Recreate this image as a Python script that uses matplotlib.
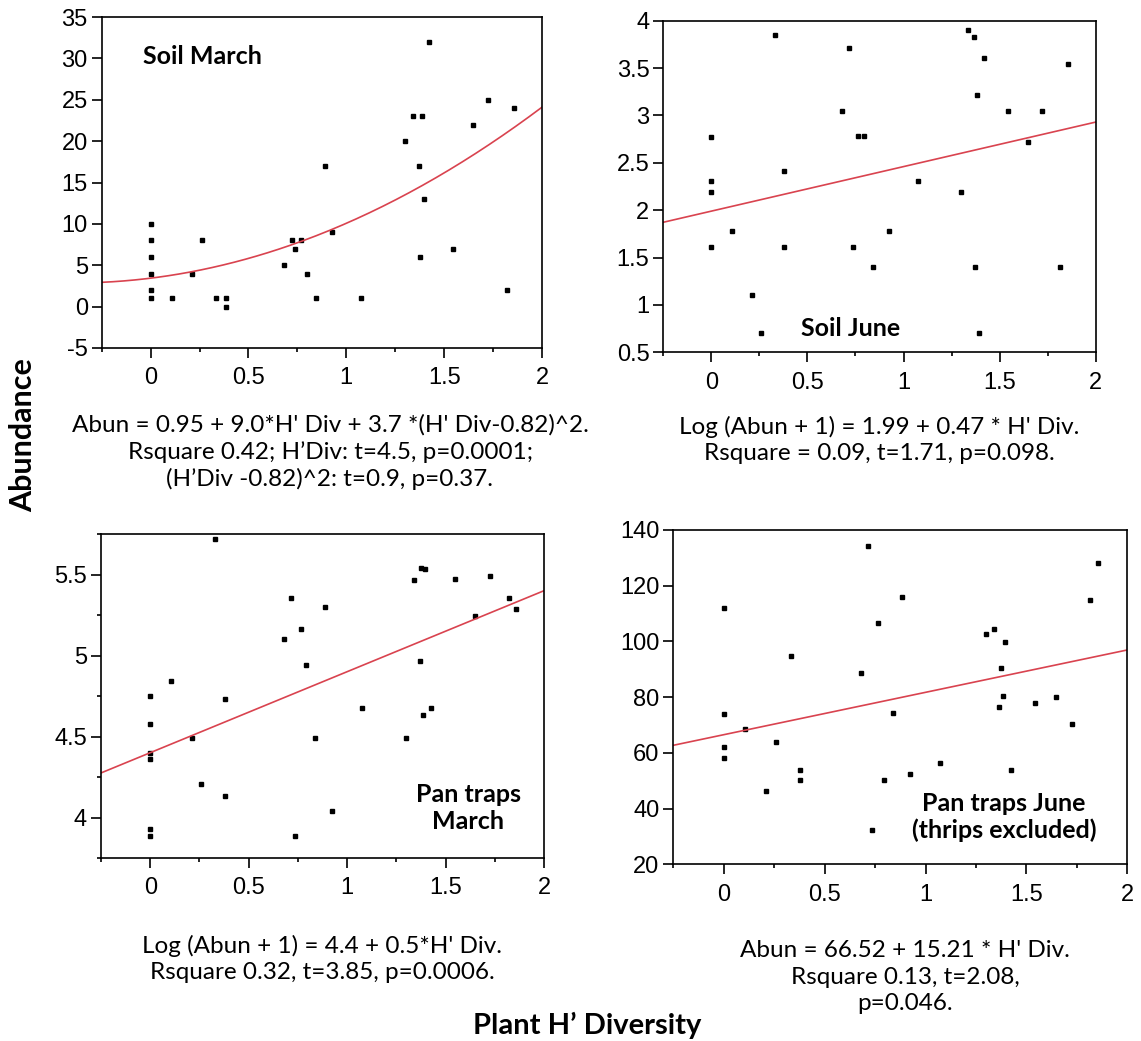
import numpy as np
import matplotlib
matplotlib.use("Agg")
import matplotlib.pyplot as plt
from matplotlib.ticker import MultipleLocator

# --- data ---
# Soil March
sm_x = [0, 0, 0, 0, 0, 0, 0.109, 0.213, 0.26, 0.335, 0.383, 0.383, 0.684, 0.722, 0.74, 0.768,
        0.797, 0.844, 0.889, 0.926, 1.077, 1.302, 1.34, 1.387, 1.369, 1.377, 1.396, 1.425,
        1.547, 1.649, 1.726, 1.82, 1.855]
sm_y = [10, 8, 6, 4, 2, 1, 1, 4, 8, 1, 1, -0.1, 5, 8, 7, 8,
        4, 1, 17, 9, 1, 20, 23, 23, 17, 6, 13, 32,
        7, 22, 25, 2, 24]

# Soil June
sj_x = [0, 0, 0, 0, 0.106, 0.21, 0.257, 0.332, 0.379, 0.379, 0.679, 0.716, 0.737, 0.765,
        0.792, 0.839, 0.924, 1.074, 1.298, 1.336, 1.366, 1.374, 1.383, 1.394, 1.421, 1.543,
        1.647, 1.722, 1.816, 1.854]
sj_y = [2.77, 2.31, 2.19, 1.61, 1.78, 1.10, 0.70, 3.85, 2.41, 1.61, 3.05, 3.71, 1.61, 2.78,
        2.78, 1.40, 1.78, 2.31, 2.19, 3.905, 3.83, 1.40, 3.22, 0.70, 3.61, 3.05,
        2.72, 3.05, 1.40, 3.54]

# Pan traps March
pm_x = [0, 0, 0, 0, 0, 0, 0.107, 0.211, 0.257, 0.331, 0.379, 0.379, 0.68, 0.717, 0.736,
        0.765, 0.792, 0.839, 0.887, 0.924, 1.075, 1.301, 1.339, 1.368, 1.376, 1.386, 1.396,
        1.424, 1.546, 1.648, 1.725, 1.82, 1.857]
pm_y = [4.753, 4.576, 4.399, 4.364, 3.932, 3.887, 4.842, 4.488, 4.208, 5.722, 4.733, 4.132,
        5.099, 5.354, 3.887, 5.165, 4.942, 4.488, 5.298, 4.043, 4.677, 4.488, 5.465, 4.965,
        5.543, 4.632, 5.531, 4.677, 5.475, 5.243, 5.488, 5.354, 5.288]

# Pan traps June
pj_x = [0, 0, 0, 0, 0.106, 0.209, 0.257, 0.331, 0.378, 0.378, 0.681, 0.717, 0.737, 0.766,
        0.794, 0.84, 0.885, 0.923, 1.074, 1.299, 1.337, 1.364, 1.375, 1.385, 1.393, 1.422,
        1.543, 1.648, 1.724, 1.817, 1.854]
pj_y = [112, 74, 62, 58, 68.5, 46.3, 63.8, 94.65, 53.7, 50.4, 88.55, 134.1, 32.3, 106.6,
        50.4, 74.4, 116, 52.4, 56.4, 102.7, 104.6, 76.5, 90.6, 80.5, 99.9, 53.7,
        77.9, 79.9, 70.5, 114.8, 128.2]

# fitted models from the captions
sm_coef = (0.95, 9.0, 3.7, 0.82)
sj_coef = (1.99, 0.47)
pm_coef = (4.4, 0.5)
pj_coef = (66.52, 15.21)

W, H = 1141, 1041
red = '#d9434f'
tick_font = 'Liberation Sans'
text_font = ['Lato', 'DejaVu Sans']

fig = plt.figure(figsize=(W / 100, H / 100), dpi=100)


def make_ax(l, r, t, b):
    return fig.add_axes([l / W, 1 - b / H, (r - l) / W, (b - t) / H])


def style(ax, ylim, ymajor, yminor=None):
    ax.set_xlim(-0.25, 2)
    ax.set_ylim(*ylim)
    ax.xaxis.set_major_locator(MultipleLocator(0.5))
    ax.xaxis.set_minor_locator(MultipleLocator(0.25))
    ax.yaxis.set_major_locator(MultipleLocator(ymajor))
    if yminor:
        ax.yaxis.set_minor_locator(MultipleLocator(yminor))
    ax.tick_params(which='major', length=7, width=1.2, labelsize=17, pad=3)
    ax.tick_params(which='minor', length=3, width=1.2)
    ax.tick_params(axis='x', which='major', pad=7)
    ax.xaxis.set_major_formatter(plt.FuncFormatter(lambda v, p: f'{v:g}'))
    ax.yaxis.set_major_formatter(plt.FuncFormatter(lambda v, p: f'{v:g}'))
    for s in ax.spines.values():
        s.set_linewidth(1.2)


xs = np.linspace(-0.25, 2, 200)

# Soil March
ax1 = make_ax(101.7, 542, 17, 348)
ax1.plot(sm_x, sm_y, 's', color='black', ms=2.2)
ax1.plot(xs, sm_coef[0] + sm_coef[1] * xs + sm_coef[2] * (xs - sm_coef[3]) ** 2, color=red, lw=1.2)
style(ax1, (-5, 35), 5)

# Soil June
ax2 = make_ax(663.3, 1095.7, 20.7, 352.3)
ax2.plot(sj_x, sj_y, 's', color='black', ms=2.2)
ax2.plot(xs, sj_coef[0] + sj_coef[1] * xs, color=red, lw=1.2)
style(ax2, (0.5, 4), 0.5)

# Pan traps March
ax3 = make_ax(101, 544, 534, 858)
ax3.plot(pm_x, pm_y, 's', color='black', ms=2.2)
ax3.plot(xs, pm_coef[0] + pm_coef[1] * xs, color=red, lw=1.2)
style(ax3, (3.75, 5.75), 0.5, 0.25)
ax3.set_yticks([4, 4.5, 5, 5.5])

# Pan traps June
ax4 = make_ax(673.3, 1127.3, 530, 864.3)
ax4.plot(pj_x, pj_y, 's', color='black', ms=2.2)
ax4.plot(xs, pj_coef[0] + pj_coef[1] * xs, color=red, lw=1.2)
style(ax4, (20, 140), 20)

for ax in (ax1, ax2, ax3, ax4):
    for lab in ax.get_xticklabels() + ax.get_yticklabels():
        lab.set_fontfamily(tick_font)


def ftext(x, y, s, **kw):
    fig.text(x / W, 1 - y / H, s, family=text_font, **kw)


# panel labels
ftext(143, 57, 'Soil March', fontsize=18, weight='bold', va='center', ha='left')
ftext(851, 328, 'Soil June', fontsize=18, weight='bold', va='center', ha='center')
ftext(468, 808, 'Pan traps\nMarch', fontsize=18, weight='bold', va='center', ha='center',
      linespacing=1.2)
ftext(1004, 817, 'Pan traps June\n(thrips excluded)', fontsize=18, weight='bold', va='center',
      ha='center', linespacing=1.2)

# captions
ftext(330, 452, "Abun = 0.95 + 9.0*H' Div + 3.7 *(H' Div-0.82)^2.\n"
      "Rsquare 0.42; H\u2019Div: t=4.5, p=0.0001;\n"
      "(H\u2019Div -0.82)^2: t=0.9, p=0.37.", fontsize=17.5, ha='center', va='center',
      linespacing=1.3)
ftext(879.5, 440, "Log (Abun + 1) = 1.99 + 0.47 * H' Div.\n"
      "Rsquare = 0.09, t=1.71, p=0.098.", fontsize=17.5, ha='center', va='center',
      linespacing=1.3)
ftext(322, 959, "Log (Abun + 1) = 4.4 + 0.5*H' Div.\n"
      "Rsquare 0.32, t=3.85, p=0.0006.", fontsize=17.5, ha='center', va='center',
      linespacing=1.3)
ftext(905, 977, "Abun = 66.52 + 15.21 * H' Div.\n"
      "Rsquare 0.13, t=2.08,\n"
      "p=0.046.", fontsize=17.5, ha='center', va='center', linespacing=1.35)

# shared axis titles
ftext(587, 1025, 'Plant H\u2019 Diversity', fontsize=21, weight='bold', ha='center', va='center')
ftext(23, 435, 'Abundance', fontsize=22, weight='bold', ha='center', va='center', rotation=90)

fig.savefig('out.png', dpi=100)
